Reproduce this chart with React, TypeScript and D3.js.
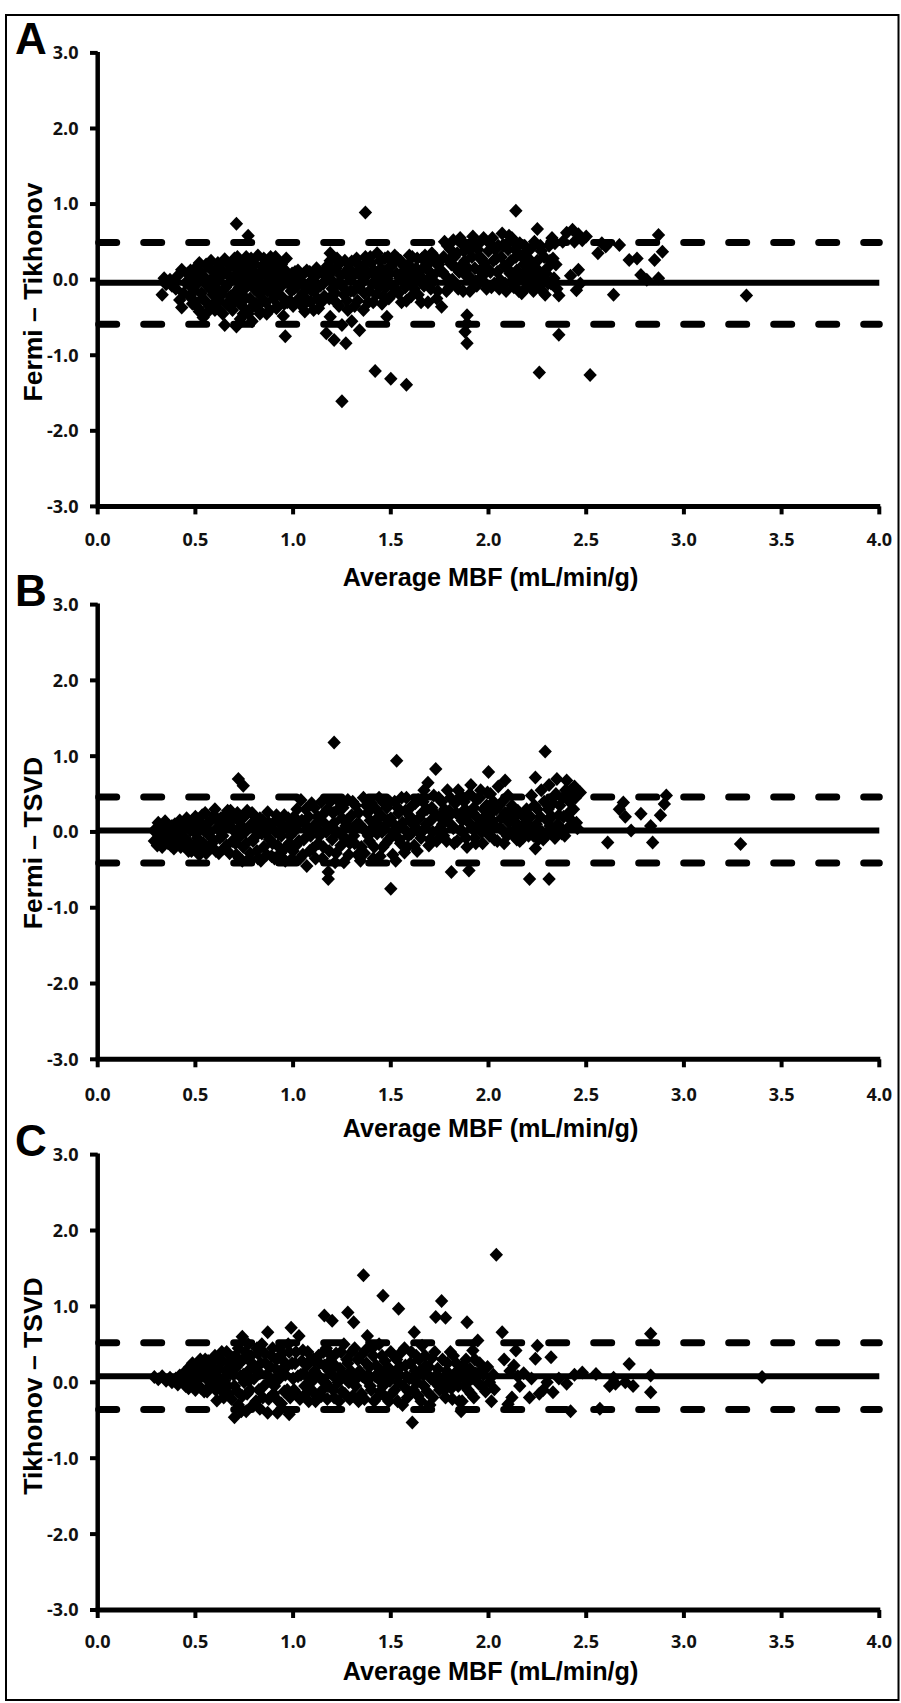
import React from 'react';
import * as d3 from 'd3';

// ---------- data ----------
const xTicks = [0, 0.5, 1, 1.5, 2, 2.5, 3, 3.5, 4];
const yTicks = [3, 2, 1, 0, -1, -2, -3];
const panelLetters = ['A', 'B', 'C'];
const yTitles = ['Fermi – Tikhonov', 'Fermi – TSVD', 'Tikhonov – TSVD'];
const xTitle = 'Average MBF (mL/min/g)';
const meanDiff = [-0.04, 0.02, 0.08];
const upperLoA = [0.49, 0.46, 0.52];
const lowerLoA = [-0.59, -0.41, -0.36];

const pointsA: [number, number][] = [
  [0.33,-0.20],[0.34,0.02],[0.35,-0.06],[0.37,0.00],[0.38,-0.08],[0.40,-0.12],[0.41,0.05],[0.42,-0.27],[0.43,-0.37],[0.43,0.13],[0.44,-0.18],[0.45,-0.04],
  [0.46,0.08],[0.47,-0.22],[0.48,-0.10],[0.49,0.02],[0.50,-0.30],[0.50,0.15],[0.51,-0.05],[0.52,0.22],[0.52,-0.42],[0.53,-0.18],[0.54,0.05],[0.54,-0.50],[0.55,-0.28],[0.56,0.18],[0.56,-0.08],[0.57,-0.35],[0.58,0.25],[0.58,0.00],[0.59,-0.20],[0.60,0.10],[0.60,-0.40],[0.61,-0.12],[0.62,0.20],[0.62,-0.28],[0.63,0.04],[0.64,-0.45],[0.64,-0.15],[0.65,0.27],[0.65,-0.60],[0.66,0.08],[0.66,-0.32],
  [0.67,-0.05],[0.68,0.18],[0.68,-0.22],[0.69,-0.40],[0.70,0.05],[0.70,0.28],[0.71,-0.15],[0.71,-0.62],[0.71,0.74],[0.72,0.12],[0.72,-0.30],[0.73,-0.52],[0.73,-0.02],[0.74,0.22],[0.74,-0.20],[0.75,-0.38],[0.75,0.08],[0.76,-0.10],[0.76,0.30],[0.77,-0.45],[0.77,0.15],[0.77,0.58],[0.78,-0.25],[0.78,0.00],[0.79,0.25],[0.79,-0.55],[0.80,-0.12],[0.80,0.10],[0.81,-0.32],[0.82,0.32],[0.82,0.02],[0.83,-0.20],[0.83,-0.45],[0.84,0.18],[0.84,-0.08],[0.85,0.28],[0.86,-0.30],[0.86,0.05],[0.87,-0.15],[0.88,0.22],[0.88,-0.40],[0.89,-0.05],[0.90,0.12],[0.90,-0.25],[0.91,0.30],[0.92,-0.12],[0.92,-0.35],[0.93,0.05],[0.94,0.20],[0.94,-0.22],[0.95,-0.48],[0.95,-0.02],[0.96,0.12],[0.96,-0.75],[0.97,-0.30],
  [0.98,0.02],[0.99,-0.15],[1.00,-0.35],[1.01,0.10],[1.02,-0.08],[1.03,-0.25],[1.04,0.05],[1.05,-0.18],[1.06,-0.42],[1.07,0.12],[1.08,-0.05],[1.09,-0.30],[1.10,0.00],[1.11,-0.15],[1.12,0.15],[1.13,-0.38],[1.14,-0.08],[1.15,0.08],[1.16,-0.22],[1.19,0.35],
  [1.17,-0.71],[1.18,0.05],[1.19,-0.49],[1.19,0.25],[1.20,-0.12],[1.21,-0.80],[1.22,0.15],[1.22,-0.30],[1.23,-0.05],[1.24,0.22],[1.25,-0.60],[1.25,-1.61],[1.26,-0.20],[1.27,0.10],[1.27,-0.84],[1.28,-0.40],[1.29,0.02],[1.30,0.24],[1.30,-0.55],[1.31,-0.15],[1.32,0.08],[1.33,-0.28],[1.34,-0.67],[1.34,0.18],[1.35,-0.05],
  [1.37,0.89],[1.36,-0.40],[1.37,0.30],[1.38,0.10],[1.39,-0.15],[1.40,0.22],[1.41,-0.30],[1.42,-1.21],[1.42,0.05],[1.43,0.35],[1.44,-0.10],[1.45,0.15],[1.46,-0.22],[1.47,0.28],[1.48,-0.49],[1.48,0.02],[1.49,-0.25],[1.50,-1.31],[1.50,0.18],[1.51,-0.08],[1.52,0.32],[1.53,0.08],[1.54,-0.18],[1.55,0.25],[1.56,-0.02],[1.57,0.12],[1.58,-1.39],[1.58,-0.28],[1.59,0.20],[1.60,0.00],[1.61,0.30],[1.62,-0.12],[1.63,0.15],[1.64,-0.20],[1.65,0.05],[1.66,0.28],[1.67,-0.08],[1.68,0.18],[1.69,-0.30],[1.70,0.10],[1.71,0.35],[1.72,-0.02],[1.73,0.22],[1.74,-0.15],[1.75,0.12],
  [1.76,-0.36],[1.77,0.30],[1.78,0.05],[1.79,0.45],[1.80,-0.10],[1.81,0.20],[1.82,0.52],[1.83,-0.05],[1.84,0.35],[1.85,0.10],[1.86,0.48],[1.87,-0.15],[1.88,0.25],[1.89,-0.47],[1.89,-0.58],[1.88,-0.69],[1.89,-0.84],[1.90,0.40],[1.91,0.02],[1.92,0.57],[1.93,0.15],[1.94,-0.08],[1.95,0.30],[1.96,0.50],[1.97,0.05],[1.98,0.22],[1.99,-0.12],[2.00,0.38],[2.01,0.10],[2.02,0.55],[2.03,-0.05],[2.04,0.28],[2.05,0.45],[2.06,0.00],[2.07,0.61],[2.08,0.18],[2.09,-0.15],[2.10,0.40],[2.11,0.08],[2.12,0.55],[2.13,-0.10],[2.14,0.91],[2.14,0.30],[2.15,0.02],[2.16,0.48],[2.17,-0.18],[2.18,0.20],[2.19,0.35],[2.20,-0.05],[2.21,0.12],[2.22,0.42],[2.23,-0.15],[2.24,0.05],[2.25,0.67],[2.25,0.25],[2.26,-0.08],[2.27,0.38],[2.28,0.00],[2.29,-0.20],[2.30,0.15],[2.31,0.45],[2.32,-0.05],[2.33,0.28],[2.34,0.48],[2.35,-0.12],[2.36,-0.21],[2.36,-0.73],
  [2.38,0.50],[2.40,0.62],[2.42,0.05],[2.43,0.66],[2.44,0.50],[2.45,-0.14],[2.46,0.13],[2.46,0.60],[2.47,-0.05],[2.48,0.52],[2.50,0.57],[2.52,-1.26],[2.26,-1.23],[2.56,0.35],[2.58,0.48],[2.60,0.44],[2.64,-0.20],[2.67,0.46],[2.72,0.26],[2.76,0.28],[2.78,0.06],[2.81,0.00],[2.85,0.26],[2.87,0.59],[2.89,0.37],[2.87,0.02],[3.32,-0.21],
  [0.475,0.12],[0.485,-0.32],[0.495,-0.15],[0.505,0.05],[0.515,-0.38],[0.525,0.10],[0.535,-0.25],[0.545,-0.02],[0.555,0.20],[0.565,-0.42],[0.575,-0.12],[0.585,0.12],[0.595,-0.32],[0.605,-0.02],[0.615,0.22],[0.625,-0.40],[0.635,-0.20],[0.645,0.10],[0.655,-0.10],[0.665,0.22],
  [0.675,-0.35],[0.685,0.02],[0.695,0.20],[0.705,-0.28],[0.715,0.30],[0.725,-0.10],[0.735,0.18],[0.745,-0.45],[0.755,-0.25],[0.765,0.15],[0.775,-0.05],[0.785,0.28],[0.795,-0.35],[0.805,0.20],[0.815,-0.02],[0.825,-0.40],[0.835,0.10],[0.845,-0.28],[0.855,0.15],[0.865,-0.45],[0.875,0.05],[0.885,0.30],[0.895,-0.18],[0.905,0.02],[0.915,-0.38],[0.925,0.22],[0.935,-0.10],[0.945,0.10],[0.955,-0.32],[0.965,0.28],[0.975,-0.05],
  [0.985,-0.28],[0.995,0.08],[1.005,-0.12],[1.015,-0.30],[1.025,0.12],[1.035,0.00],[1.045,-0.35],[1.055,0.08],[1.065,-0.10],[1.075,-0.28],[1.085,0.10],[1.095,-0.15],[1.105,-0.40],[1.115,0.05],[1.125,-0.25],[1.135,0.10],[1.145,-0.30],[1.155,-0.05],
  [1.175,0.18],[1.185,-0.25],[1.195,0.00],[1.205,0.12],[1.215,-0.18],[1.225,0.28],[1.235,-0.35],[1.245,0.05],[1.255,-0.10],[1.265,0.25],[1.275,-0.28],[1.285,0.15],[1.295,-0.15],[1.305,0.05],[1.315,-0.35],[1.325,0.28],[1.335,-0.10],[1.345,0.05],
  [1.355,0.18],[1.365,-0.18],[1.375,0.05],[1.385,-0.30],[1.395,0.30],[1.405,-0.05],[1.415,0.12],[1.425,-0.20],[1.435,0.02],[1.445,0.25],[1.455,-0.32],[1.465,0.10],[1.475,-0.10],[1.485,0.30],[1.495,0.08],[1.505,-0.20],[1.515,0.22],[1.525,-0.12],[1.535,0.28],[1.545,0.02],[1.555,-0.30],[1.565,0.18],[1.575,-0.10],[1.585,0.05],[1.595,0.32],[1.605,-0.22],[1.615,0.10],[1.625,-0.02],[1.635,0.28],[1.645,0.02],[1.655,-0.30],[1.665,0.15],[1.675,0.32],[1.685,-0.02],[1.695,0.22],[1.705,-0.12],[1.715,0.05],[1.725,0.30],[1.735,-0.25],[1.745,0.20],
  [1.765,0.10],[1.775,0.50],[1.785,-0.15],[1.795,0.25],[1.805,0.40],[1.815,0.00],[1.825,0.30],[1.835,0.15],[1.845,-0.12],[1.855,0.55],[1.865,0.20],[1.875,0.38],[1.885,0.05],[1.895,0.15],[1.905,-0.15],[1.915,0.30],[1.925,0.45],[1.935,-0.02],[1.945,0.40],[1.955,0.12],[1.965,0.28],[1.975,0.55],[1.985,-0.05],[1.995,0.15],[2.005,0.48],[2.015,-0.10],[2.025,0.25],[2.035,0.40],[2.045,0.10],[2.055,-0.12],[2.065,0.30],[2.075,0.45],[2.085,-0.05],[2.095,0.15],[2.105,0.58],[2.115,0.25],[2.125,0.00],[2.135,0.40],[2.145,0.12],[2.155,-0.15],[2.165,0.32],[2.175,0.05],[2.185,0.45],[2.195,-0.10],[2.205,0.28],[2.215,0.02],[2.225,0.20],[2.235,0.50],[2.245,-0.10],[2.255,0.12],[2.265,0.45],[2.275,-0.15],[2.285,0.30],[2.295,0.08],[2.305,-0.05],[2.315,0.25],[2.325,0.55],[2.335,0.02],[2.345,0.20]
];

const pointsB: [number, number][] = [
  [0.29,-0.12],[0.30,0.05],[0.31,0.12],[0.32,-0.08],[0.33,-0.20],[0.34,0.02],[0.35,0.10],[0.36,-0.15],[0.37,-0.02],[0.38,0.08],[0.39,-0.22],[0.40,0.00],[0.41,-0.10],[0.42,0.15],[0.43,-0.05],[0.44,-0.18],[0.45,0.06],
  [0.46,-0.12],[0.47,0.12],[0.48,-0.25],[0.49,0.02],[0.50,0.20],[0.51,-0.08],[0.52,-0.30],[0.53,0.10],[0.54,-0.15],[0.55,0.25],[0.56,-0.02],[0.57,-0.22],[0.58,0.15],[0.59,-0.10],[0.60,0.30],[0.61,0.05],[0.62,-0.28],[0.63,0.18],[0.64,-0.05],[0.65,0.22],[0.66,-0.18],[0.67,0.08],[0.68,0.28],[0.69,-0.12],[0.70,0.02],[0.72,0.70],[0.745,0.61],
  [0.71,-0.30],[0.72,0.15],[0.73,-0.05],[0.74,-0.38],[0.75,0.20],[0.76,-0.15],[0.77,0.05],[0.78,-0.28],[0.79,0.25],[0.80,-0.08],[0.81,0.10],[0.82,-0.35],[0.83,0.18],[0.84,-0.02],[0.85,-0.20],[0.86,0.08],[0.87,0.26],[0.88,-0.10],[0.89,-0.32],[0.90,0.12],[0.91,0.00],[0.92,-0.18],[0.93,0.15],[0.94,-0.05],[0.955,0.22],[0.96,-0.38],[0.97,0.05],[0.98,-0.15],[0.99,0.12],[1.00,-0.25],
  [1.01,0.02],[1.02,0.30],[1.03,-0.12],[1.04,0.42],[1.05,-0.30],[1.06,0.10],[1.07,-0.45],[1.08,0.20],[1.09,-0.05],[1.10,-0.22],[1.11,0.32],[1.12,0.05],[1.13,-0.15],[1.14,0.15],[1.15,-0.35],[1.16,0.25],[1.17,0.00],[1.18,-0.62],[1.18,-0.53],[1.19,0.40],[1.20,-0.10],[1.21,1.18],[1.21,0.12],[1.22,-0.28],[1.23,0.30],[1.24,-0.02],[1.25,0.18],[1.26,-0.40],[1.27,0.08],[1.28,0.42],[1.29,-0.15],[1.30,0.22],[1.31,-0.05],[1.32,0.35],[1.33,-0.30],[1.34,0.10],[1.35,-0.20],
  [1.36,0.45],[1.37,0.02],[1.38,0.25],[1.39,-0.12],[1.40,0.38],[1.41,-0.35],[1.42,0.15],[1.43,-0.02],[1.44,0.45],[1.45,0.22],[1.46,-0.20],[1.47,0.08],[1.48,0.32],[1.49,-0.10],[1.50,-0.75],[1.50,0.18],[1.51,-0.30],[1.52,0.40],[1.53,0.94],[1.53,0.02],[1.54,0.25],[1.55,-0.15],[1.56,0.12],[1.57,-0.27],[1.58,0.45],[1.59,-0.05],[1.60,0.20],[1.61,0.35],[1.62,-0.18],[1.63,0.05],[1.64,0.42],[1.65,-0.02],[1.66,0.25],[1.67,0.55],[1.68,0.10],[1.69,0.65],[1.70,-0.10],[1.71,0.32],[1.72,0.48],[1.73,0.83],[1.74,0.02],[1.75,0.20],
  [1.76,0.40],[1.77,-0.05],[1.78,0.15],[1.79,0.55],[1.80,0.28],[1.81,-0.53],[1.82,0.05],[1.83,0.38],[1.84,-0.12],[1.85,0.22],[1.86,0.48],[1.87,0.00],[1.88,0.30],[1.89,-0.20],[1.90,-0.51],[1.90,0.12],[1.91,0.62],[1.92,0.25],[1.93,-0.08],[1.94,0.42],[1.95,0.10],[1.96,0.55],[1.97,-0.15],[1.98,0.20],[1.99,0.35],[2.00,0.79],[2.00,0.02],[2.01,0.50],[2.02,0.15],[2.03,-0.10],[2.04,0.30],[2.05,0.60],[2.06,0.05],[2.07,0.40],[2.08,-0.15],[2.085,0.68],[2.09,0.22],[2.10,0.48],[2.11,0.00],[2.12,0.35],[2.13,-0.05],[2.14,0.12],[2.15,0.28],[2.16,-0.12],[2.17,0.05],[2.18,0.20],[2.19,0.00],[2.20,0.10],[2.21,-0.62],[2.22,0.48],[2.23,-0.05],[2.24,0.72],[2.24,-0.22],[2.25,0.30],[2.26,0.02],[2.27,0.55],[2.28,-0.10],[2.29,1.06],[2.30,0.15],[2.31,-0.62],[2.31,0.62],[2.32,0.00],[2.33,0.38],[2.34,-0.08],[2.35,0.70],[2.36,0.22],[2.37,0.05],[2.38,0.45],[2.39,-0.05],[2.40,0.68],[2.41,0.25],[2.42,0.55],[2.43,0.08],[2.44,0.60],[2.45,0.12],[2.47,0.52],
  [2.61,-0.14],[2.67,0.30],[2.69,0.39],[2.70,0.20],[2.73,0.02],[2.78,0.24],[2.83,0.08],[2.84,-0.14],[2.88,0.22],[2.90,0.37],[2.91,0.48],[3.29,-0.16],
  [0.295,0.00],[0.305,-0.18],[0.315,-0.02],[0.325,0.08],[0.335,-0.10],[0.345,0.14],[0.355,-0.05],[0.365,0.06],[0.375,-0.18],[0.385,-0.05],[0.395,0.10],[0.405,-0.15],[0.415,0.05],[0.425,-0.20],[0.435,0.10],[0.445,-0.08],[0.455,0.18],
  [0.465,-0.25],[0.475,0.02],[0.485,0.15],[0.495,-0.18],[0.505,-0.02],[0.515,0.12],[0.525,-0.20],[0.535,0.22],[0.545,0.02],[0.555,-0.28],[0.565,0.12],[0.575,0.00],[0.585,-0.15],[0.595,0.22],[0.605,-0.25],[0.615,0.15],[0.625,-0.08],[0.635,0.05],[0.645,-0.22],[0.655,0.12],[0.665,0.28],[0.675,-0.28],[0.685,0.05],[0.695,0.18],
  [0.705,-0.15],[0.715,0.25],[0.725,-0.35],[0.735,0.08],[0.745,-0.20],[0.755,0.00],[0.765,0.28],[0.775,-0.35],[0.785,0.10],[0.795,-0.12],[0.805,0.20],[0.815,-0.25],[0.825,0.02],[0.835,-0.38],[0.845,0.15],[0.855,0.00],[0.865,-0.30],[0.875,0.12],[0.885,0.05],[0.895,-0.15],[0.905,-0.35],[0.915,0.22],[0.925,-0.02],[0.935,-0.28],[0.945,0.08],[0.965,-0.20],[0.975,0.18],[0.985,-0.05],[0.995,-0.35],
  [1.005,0.20],[1.015,-0.18],[1.025,0.10],[1.035,-0.35],[1.045,0.15],[1.055,-0.10],[1.065,0.30],[1.075,0.02],[1.085,-0.25],[1.095,0.38],[1.105,0.08],[1.115,-0.35],[1.125,0.20],[1.135,-0.05],[1.145,0.40],[1.155,-0.20],[1.165,0.10],[1.175,0.30],[1.185,-0.25],[1.195,0.05],[1.205,0.25],[1.215,-0.40],[1.225,0.00],[1.235,0.40],[1.245,-0.18],[1.255,0.32],[1.265,-0.08],[1.275,0.15],[1.285,-0.30],[1.295,0.05],[1.305,0.40],[1.315,-0.15],[1.325,0.10],[1.335,0.25],[1.345,-0.38],[1.355,0.05],
  [1.365,-0.28],[1.375,0.35],[1.385,-0.05],[1.395,0.15],[1.405,0.05],[1.415,-0.20],[1.425,0.30],[1.435,0.10],[1.445,-0.32],[1.455,0.00],[1.465,0.38],[1.475,-0.15],[1.485,0.15],[1.495,0.40],[1.505,-0.05],[1.515,0.10],[1.525,-0.38],[1.535,0.32],[1.545,-0.10],[1.555,0.45],[1.565,0.05],[1.575,0.28],[1.585,-0.20],[1.595,0.15],[1.605,-0.02],[1.615,0.10],[1.625,0.38],[1.635,-0.25],[1.645,0.18],[1.655,-0.08],[1.665,0.40],[1.675,0.05],[1.685,0.30],[1.695,-0.18],[1.705,0.15],[1.715,0.00],[1.725,0.25],[1.735,-0.12],[1.745,0.45],
  [1.765,0.10],[1.775,0.30],[1.785,-0.12],[1.795,0.20],[1.805,0.45],[1.815,0.08],[1.825,-0.15],[1.835,0.25],[1.845,0.55],[1.855,0.02],[1.865,0.15],[1.875,0.40],[1.885,-0.08],[1.895,0.22],[1.905,0.50],[1.915,0.05],[1.925,0.32],[1.935,-0.15],[1.945,0.18],[1.955,0.45],[1.965,0.00],[1.975,0.30],[1.985,0.10],[1.995,0.52],[2.005,-0.05],[2.015,0.25],[2.025,0.40],[2.035,0.08],[2.045,-0.12],[2.055,0.35],[2.065,0.18],[2.075,0.02],[2.085,0.25],[2.095,-0.05],[2.105,0.12],[2.115,0.30],[2.125,0.00],[2.135,0.20],[2.145,-0.10],[2.155,0.08],[2.165,0.02],[2.175,-0.08],[2.185,0.10],[2.195,0.30],[2.205,-0.05],[2.215,0.20],[2.225,0.05],[2.235,0.35],[2.245,0.10],[2.255,-0.10],[2.265,0.20],[2.275,0.00],[2.285,0.40],[2.295,-0.05],[2.305,0.30],[2.315,0.08],[2.325,0.20],[2.335,-0.05],[2.345,0.50],[2.355,0.10],[2.365,0.35],[2.375,-0.02],[2.385,0.20],[2.395,0.55],[2.405,0.05],[2.415,0.40],[2.425,0.15],[2.435,0.30],[2.445,0.45],[2.455,0.05]
];

const pointsC: [number, number][] = [
  [0.29,0.07],[0.31,0.04],[0.33,0.08],[0.35,0.02],[0.37,0.06],[0.38,0.00],[0.40,0.05],[0.41,-0.03],[0.42,0.09],[0.43,0.02],
  [0.44,0.12],[0.45,-0.05],[0.46,0.08],[0.47,0.20],[0.48,-0.02],[0.49,0.15],[0.50,-0.10],[0.51,0.25],[0.52,0.05],[0.53,-0.08],[0.54,0.18],[0.55,0.30],[0.56,-0.12],[0.57,0.10],[0.58,0.22],[0.59,-0.02],[0.60,0.35],[0.61,-0.24],[0.61,0.08],
  [0.62,0.18],[0.63,-0.10],[0.64,0.28],[0.65,0.02],[0.66,0.40],[0.67,-0.15],[0.68,0.12],[0.69,0.32],[0.70,-0.46],[0.70,-0.05],[0.71,0.20],[0.72,0.45],[0.72,-0.30],[0.73,0.08],[0.74,0.60],[0.74,-0.18],[0.745,0.30],[0.75,0.00],[0.76,-0.38],[0.77,0.15],[0.77,0.50],[0.78,-0.10],[0.79,0.25],[0.80,0.05],[0.81,-0.25],[0.82,0.38],[0.83,-0.35],[0.83,0.12],[0.84,0.50],[0.85,-0.05],[0.86,0.25],[0.87,0.66],[0.87,-0.40],[0.88,0.02],[0.89,0.35],[0.90,-0.15],[0.91,0.18],[0.92,-0.40],[0.93,0.45],[0.93,0.05],[0.94,-0.28],[0.95,0.28],[0.96,0.10],[0.97,-0.10],[0.98,0.40],[0.98,-0.42],[0.99,0.72],[1.00,0.05],
  [1.01,0.25],[1.02,-0.15],[1.03,0.61],[1.04,0.10],[1.05,0.42],[1.06,-0.05],[1.07,0.22],[1.08,-0.25],[1.09,0.30],[1.10,0.02],[1.11,0.15],[1.12,-0.18],[1.13,0.35],[1.14,0.05],[1.15,-0.10],[1.16,0.88],[1.16,0.22],[1.17,0.45],[1.18,-0.05],[1.19,0.28],[1.20,0.81],[1.20,0.10],[1.21,-0.20],[1.22,0.38],[1.23,0.00],[1.24,0.18],[1.25,-0.12],[1.26,0.50],[1.27,0.05],[1.28,0.92],[1.28,0.25],[1.29,-0.22],[1.30,0.40],[1.31,0.79],[1.31,0.08],[1.32,-0.05],[1.33,0.30],[1.34,0.15],[1.35,-0.15],
  [1.36,1.41],[1.37,0.42],[1.38,0.61],[1.38,0.02],[1.39,0.20],[1.40,-0.10],[1.41,0.35],[1.42,0.08],[1.43,-0.20],[1.44,0.50],[1.45,0.15],[1.46,1.14],[1.46,-0.05],[1.47,0.28],[1.48,0.05],[1.49,-0.25],[1.50,0.40],[1.51,0.12],[1.52,-0.10],[1.53,0.30],[1.54,0.97],[1.54,0.00],[1.55,0.20],[1.56,-0.30],[1.57,0.45],[1.58,0.08],[1.59,-0.12],[1.60,0.25],[1.61,-0.53],[1.61,0.05],[1.62,0.66],[1.63,0.35],[1.64,-0.18],[1.65,0.15],[1.66,0.48],[1.67,-0.05],[1.68,0.22],[1.69,0.10],[1.70,-0.30],[1.71,0.32],[1.72,0.02],[1.73,0.86],[1.74,0.18],[1.75,-0.10],
  [1.76,1.07],[1.78,0.85],[1.89,0.79],[1.77,0.05],[1.78,-0.20],[1.79,0.25],[1.80,0.10],[1.81,-0.08],[1.82,0.35],[1.83,0.00],[1.84,0.15],[1.85,-0.25],[1.86,0.08],[1.86,-0.38],[1.87,0.22],[1.88,-0.05],[1.89,0.12],[1.90,0.02],[1.91,-0.15],[1.92,0.42],[1.93,0.30],[1.94,0.08],[1.95,-0.02],[1.96,0.15],
  [2.03,-0.09],[2.04,1.68],[2.07,0.66],[2.08,0.30],[2.10,-0.29],[2.11,0.15],[2.12,-0.20],[2.13,0.22],[2.14,0.42],[2.15,0.08],[2.16,-0.05],[2.18,0.12],[2.21,-0.20],[2.22,0.05],[2.24,0.31],[2.25,0.48],[2.26,-0.15],[2.28,-0.10],[2.30,0.00],[2.32,0.33],[2.33,-0.13],[2.36,0.05],[2.40,-0.02],[2.42,-0.38],[2.44,0.10],[2.48,0.13],[2.55,0.11],[2.57,-0.35],[2.62,-0.05],[2.64,0.06],[2.65,-0.02],[2.70,0.00],[2.72,0.24],[2.74,-0.05],[2.83,0.64],[2.83,0.09],[2.83,-0.13],[3.40,0.07],
  [0.445,0.02],[0.455,0.15],[0.465,-0.08],[0.475,0.05],[0.485,0.25],[0.495,0.02],[0.505,0.15],[0.515,-0.05],[0.525,0.30],[0.535,0.10],[0.545,-0.12],[0.555,0.05],[0.565,0.28],[0.575,-0.05],[0.585,0.12],[0.595,0.30],[0.605,-0.10],
  [0.615,0.30],[0.625,0.02],[0.635,0.40],[0.645,-0.20],[0.655,0.15],[0.665,-0.05],[0.675,0.25],[0.685,-0.22],[0.695,0.10],[0.705,0.35],[0.715,-0.12],[0.725,0.25],[0.735,-0.38],[0.745,0.10],[0.755,0.40],[0.765,-0.15],[0.775,0.02],[0.785,0.35],[0.795,-0.30],[0.805,0.18],[0.815,0.45],[0.825,-0.10],[0.835,0.25],[0.845,-0.20],[0.855,0.38],[0.865,0.10],[0.875,-0.22],[0.885,0.20],[0.895,0.45],[0.905,-0.05],[0.915,0.30],[0.925,-0.25],[0.935,0.15],[0.945,0.38],[0.955,-0.12],[0.965,0.20],[0.975,0.50],[0.985,-0.20],[0.995,0.25],
  [1.005,-0.10],[1.015,0.40],[1.025,0.08],[1.035,-0.22],[1.045,0.28],[1.055,0.12],[1.065,-0.15],[1.075,0.40],[1.085,0.05],[1.095,-0.10],[1.105,0.30],[1.115,-0.25],[1.125,0.10],[1.135,0.25],[1.145,-0.18],[1.155,0.40],[1.165,0.00],[1.175,-0.22],[1.185,0.15],[1.195,0.35],[1.205,-0.10],[1.215,0.22],[1.225,0.05],[1.235,-0.25],[1.245,0.40],[1.255,0.10],[1.265,-0.15],[1.275,0.30],[1.285,0.00],[1.295,0.15],[1.305,-0.18],[1.315,0.45],[1.325,0.05],[1.335,-0.25],[1.345,0.35],[1.355,0.08],
  [1.365,-0.22],[1.375,0.25],[1.385,0.10],[1.395,-0.05],[1.405,0.45],[1.415,-0.25],[1.425,0.22],[1.435,0.05],[1.445,-0.12],[1.455,0.35],[1.465,0.10],[1.475,-0.20],[1.485,0.20],[1.495,0.02],[1.505,-0.15],[1.515,0.35],[1.525,0.15],[1.535,-0.25],[1.545,0.10],[1.555,0.40],[1.565,-0.05],[1.575,0.22],[1.585,-0.20],[1.595,0.05],[1.605,0.40],[1.615,-0.10],[1.625,0.15],[1.635,0.00],[1.645,0.30],[1.655,-0.25],[1.665,0.10],[1.675,0.35],[1.685,-0.12],[1.695,0.20],[1.705,0.05],[1.715,-0.20],[1.725,0.40],[1.735,0.10],[1.745,-0.05],
  [1.765,0.30],[1.775,-0.10],[1.785,0.15],[1.795,0.00],[1.805,0.40],[1.815,-0.22],[1.825,0.10],[1.835,0.25],[1.845,-0.05],[1.855,0.18],[1.865,-0.25],[1.875,0.05],[1.885,0.30],[1.895,-0.10],[1.905,0.18],[1.915,0.05],[1.925,-0.20],[1.935,0.12],[1.945,0.55],[1.955,0.25],[1.965,-0.05],[1.975,0.10],[1.985,-0.12],[1.995,0.20],[2.005,0.00],[2.015,-0.25],[2.025,0.10]
];

const panelPoints = [pointsA, pointsB, pointsC];

// ---------- layout ----------
const W = 901;
const H = 1703;
const X0 = 97.7;
const X1 = 879.3;
const panelTop = [52.9, 604.6, 1154.6];
const panelBottom = [506.4, 1059.3, 1610.0];
const xLabelOffset = [40, 42, 38];
const xTitleOffset = [80, 78, 69.5];
const yTitleCenter = [292, 843, 1386];

const ARIAL = '"Liberation Sans", Arial, Helvetica, sans-serif';
const TICKFONT = '"Open Sans", "Noto Sans", sans-serif';

function diamond(cx: number, cy: number): string {
  const hw = 6.7, hh = 7;
  return `M${cx},${cy - hh}L${cx + hw},${cy}L${cx},${cy + hh}L${cx - hw},${cy}Z`;
}

function Panel({ i }: { i: number }) {
  const x = d3.scaleLinear().domain([0, 4]).range([X0, X1]);
  const y = d3.scaleLinear().domain([-3, 3]).range([panelBottom[i], panelTop[i]]);
  const yb = panelBottom[i];
  const pts = panelPoints[i];
  return (
    <g>
      <text x={15} y={panelTop[i] + 1.5} fontFamily={ARIAL} fontWeight="bold" fontSize={44} fill="#000">
        {panelLetters[i]}
      </text>
      <line x1={X0} x2={X0} y1={y(3) - 1} y2={yb} stroke="#000" strokeWidth={4.5} />
      {yTicks.map((t) => (
        <g key={'yt' + t}>
          <line x1={90} x2={X0} y1={y(t)} y2={y(t)} stroke="#000" strokeWidth={4} />
          <text x={78.5} y={y(t) + 6.4} textAnchor="end" fontFamily={TICKFONT} fontWeight={700} fontSize={18} fill="#111">
            {t.toFixed(1)}
          </text>
        </g>
      ))}
      <line x1={X0 - 2} x2={X1 + 1} y1={yb} y2={yb} stroke="#000" strokeWidth={5} />
      {xTicks.map((t) => (
        <g key={'xt' + t}>
          <line x1={x(t)} x2={x(t)} y1={yb} y2={yb + 8} stroke="#000" strokeWidth={4} />
          <text x={x(t)} y={yb + xLabelOffset[i]} textAnchor="middle" fontFamily={TICKFONT} fontWeight={700} fontSize={18} fill="#111">
            {t.toFixed(1)}
          </text>
        </g>
      ))}
      <text
        transform={`translate(${(X0 + X1) / 2 + 2},${yb + xTitleOffset[i]}) scale(1,1.06)`}
        textAnchor="middle"
        fontFamily={ARIAL}
        fontWeight="bold"
        fontSize={25.2}
        fill="#000"
      >
        {xTitle}
      </text>
      <text
        transform={`translate(41.5,${yTitleCenter[i]}) rotate(-90)`}
        textAnchor="middle"
        fontFamily={ARIAL}
        fontWeight="bold"
        fontSize={26.5}
        fill="#000"
      >
        {yTitles[i]}
      </text>
      <line x1={X0} x2={X1} y1={y(meanDiff[i])} y2={y(meanDiff[i])} stroke="#000" strokeWidth={6} />
      {[upperLoA[i], lowerLoA[i]].map((v, k) => (
        <line
          key={'loa' + k}
          x1={X0 + 1} x2={X1} y1={y(v)} y2={y(v)}
          stroke="#000" strokeWidth={7} strokeLinecap="round"
          strokeDasharray="18 27"
        />
      ))}
      {pts.map((p, k) => (
        <path key={'p' + k} d={diamond(x(p[0]), y(p[1]))} fill="#000" />
      ))}
    </g>
  );
}

export default function App() {
  return (
    <svg
      width={W}
      height={H}
      viewBox={`0 0 ${W} ${H}`}
      style={{ position: 'absolute', left: 0, top: 0, background: '#fff' }}
    >
      <rect x={0} y={0} width={W} height={H} fill="#fff" />
      <rect x={6} y={15} width={892.5} height={1685} fill="none" stroke="#000" strokeWidth={2} />
      {[0, 1, 2].map((i) => (
        <Panel key={i} i={i} />
      ))}
    </svg>
  );
}
